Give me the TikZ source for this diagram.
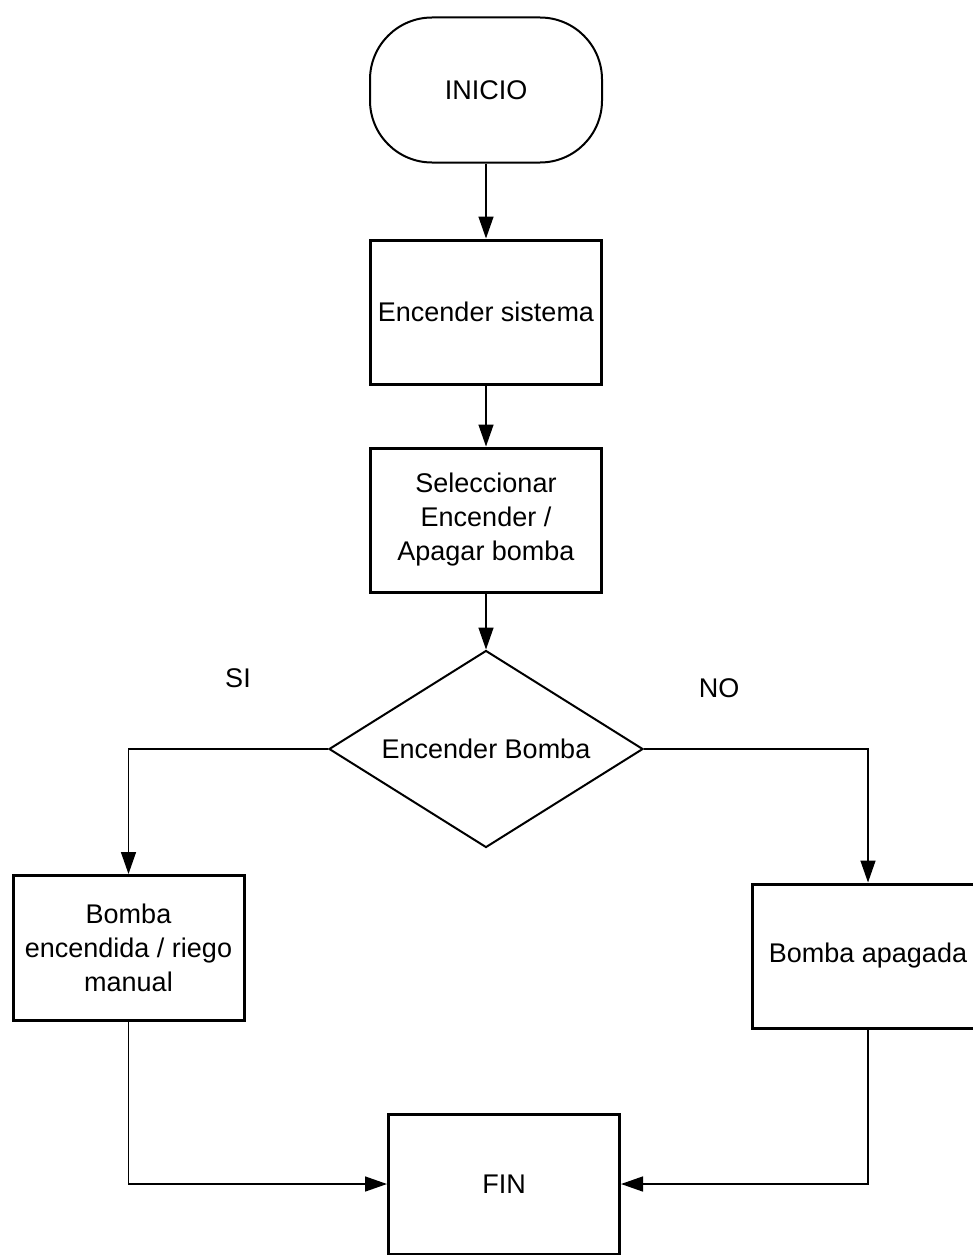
\documentclass[tikz,border=0pt]{standalone}
\usepackage{fontspec}
\setmainfont{Liberation Sans}
\usetikzlibrary{arrows.meta,shapes.geometric}
\begin{document}
\begin{tikzpicture}[x=1pt,y=-1pt,
  every node/.style={font=\fontsize{27}{34}\selectfont, align=center},
  procbox/.style={draw, line width=3pt, minimum width=231pt, minimum height=144pt, inner sep=2pt},
  termbox/.style={draw, line width=2pt, rounded corners=62pt, minimum width=232pt, minimum height=145pt},
  decbox/.style={draw, diamond, line width=2pt, aspect=1.588, minimum width=314pt, minimum height=197pt, inner sep=0pt},
  conn/.style={line width=1.5pt, -{Triangle[length=22pt,width=15pt]}},
  plain/.style={line width=1.5pt}
]
\useasboundingbox[fill=white] (0,0) rectangle (972,1255);
\node[termbox] (ini) at (486,90) {INICIO};
\node[procbox] (sis) at (486,312) {Encender sistema};
\node[procbox] (sel) at (486,520) {Seleccionar\\Encender /\\Apagar bomba};
\node[decbox] (dec) at (486,749) {Encender Bomba};
\node[procbox, minimum height=145pt] (lb) at (128.5,948) {Bomba\\encendida / riego\\manual};
\node[procbox, minimum width=232pt] (rb) at (868,956) {Bomba apagada};
\node[procbox, minimum height=140pt] (fin) at (504,1184) {FIN};
\node (si) at (238,678) {SI};
\node (no) at (719,688) {NO};
\draw[conn] (ini) -- (sis);
\draw[conn] (sis) -- (sel);
\draw[conn] (sel) -- (dec);
\draw[conn] (dec.west) -| (lb.north);
\draw[conn] (dec.east) -| (rb.north);
\draw[conn] (lb.south) |- (fin.west);
\draw[conn] (rb.south) |- (fin.east);
\end{tikzpicture}
\end{document}
